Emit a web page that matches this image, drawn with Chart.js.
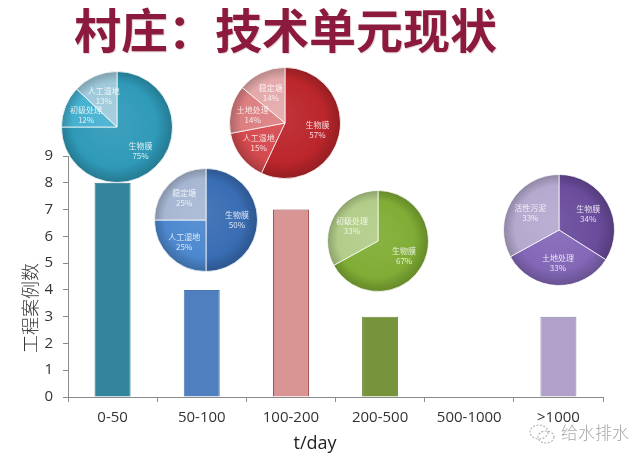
<!DOCTYPE html>
<html>
<head>
<meta charset="utf-8">
<script src="https://cdn.jsdelivr.net/npm/chart.js@4/dist/chart.umd.min.js"></script>
<style>
  html, body { margin: 0; padding: 0; background: #fff; }
  #wrap { position: relative; width: 636px; height: 463px; overflow: hidden; }
  #bars { position: absolute; left: 0; top: 0; }
  .pie { position: absolute; }
  #title {
    position: absolute; left: 74px; top: 5px; width: 420px; text-align: center;
    font: 700 47px/46px "Noto Sans CJK SC", sans-serif; color: #8c1a3c;
    text-shadow: 1px 1px 1px rgba(90, 0, 20, 0.18);
    white-space: nowrap;
  }
  #ytitle {
    position: absolute; left: -21px; top: 297px; width: 100px; height: 22px;
    text-align: center; font: 300 18px/22px "Noto Sans CJK SC", sans-serif; color: #333;
    transform: rotate(-90deg);
  }
  #xtitle {
    position: absolute; left: 265px; top: 431px; width: 100px; text-align: center;
    font: 18px/22px "Open Sans", sans-serif; color: #222;
  }
  #mark {
    position: absolute; left: 528px; top: 420px; height: 24px;
    font: 300 17px/24px "Noto Sans CJK SC", sans-serif; color: #a8a8a8;
    white-space: nowrap;
  }
  #mark svg { vertical-align: -6px; margin-right: 5px; }
</style>
</head>
<body>
<div id="wrap">
  <canvas id="bars" width="636" height="463"></canvas>
  <canvas id="pie0" class="pie"></canvas>
  <canvas id="pie1" class="pie"></canvas>
  <canvas id="pie2" class="pie"></canvas>
  <canvas id="pie3" class="pie"></canvas>
  <canvas id="pie4" class="pie"></canvas>
  <div id="title">村庄：技术单元现状</div>
  <div id="ytitle">工程案例数</div>
  <div id="xtitle">t/day</div>
  <div id="mark"><svg width="28" height="22" viewBox="0 0 28 22"><ellipse cx="11" cy="9" rx="9" ry="7" fill="none" stroke="#b5b5b5" stroke-width="1.2" stroke-dasharray="2 1.5"/><ellipse cx="18" cy="14" rx="8" ry="6" fill="none" stroke="#b5b5b5" stroke-width="1.2" stroke-dasharray="2 1.5"/></svg>给水排水</div>
</div>
<script>
// Flow-rate classes (t/day) and number of project cases per class
const categories = ['0-50', '50-100', '100-200', '200-500', '500-1000', '>1000'];
const caseCounts = [8, 4, 7, 3, 0, 3];
const yMax = 9;

// Technology share (%) inside each flow-rate class
const pie0Labels = ['生物膜', '初级处理', '人工湿地'];
const pie0Values = [75, 12, 13];
const pie1Labels = ['生物膜', '人工湿地', '稳定塘'];
const pie1Values = [50, 25, 25];
const pie2Labels = ['生物膜', '人工湿地', '土地处理', '稳定塘'];
const pie2Values = [57, 15, 14, 14];
const pie3Labels = ['生物膜', '初级处理'];
const pie3Values = [67, 33];
const pie4Labels = ['生物膜', '土地处理', '活性污泥'];
const pie4Values = [34, 33, 33];

const barFill   = ['#31849b', '#4f7fbf', '#d99594', '#77933c', '#ffffff', '#b1a0c7'];
const barStroke = ['#2b7389', '#4a78b4', '#953735', '#6e8a37', '#ffffff', '#8e86a0'];

const axisGrey = '#8a8a8a';
const tickFont = { family: 'Open Sans', size: 15 };

new Chart(document.getElementById('bars'), {
  type: 'bar',
  data: {
    labels: categories,
    datasets: [{
      data: caseCounts,
      backgroundColor: barFill,
      borderColor: barStroke,
      borderWidth: 1,
      categoryPercentage: 1,
      barPercentage: 0.404
    }]
  },
  options: {
    responsive: false,
    animation: false,
    layout: { padding: { left: 0, top: 156, right: 33, bottom: 0 } },
    plugins: { legend: { display: false }, tooltip: { enabled: false } },
    scales: {
      x: {
        grid: { drawOnChartArea: false, drawTicks: true, tickLength: 5, color: axisGrey, offset: true },
        border: { color: axisGrey },
        ticks: { font: tickFont, color: '#333', padding: 7, maxRotation: 0 },
        afterFit(s) { s.height = 66; }
      },
      y: {
        min: 0, max: yMax,
        grid: { drawOnChartArea: false, drawTicks: true, tickLength: 5, color: axisGrey },
        border: { color: axisGrey },
        ticks: { stepSize: 1, font: tickFont, color: '#333', padding: 10 },
        afterFit(s) { s.width = 68; }
      }
    }
  }
});

// darken / lighten a hex colour
function shade(hex, k) {
  const n = parseInt(hex.slice(1), 16);
  let r = n >> 16, g = (n >> 8) & 255, b = n & 255;
  const f = c => Math.max(0, Math.min(255, Math.round(k < 0 ? c * (1 + k) : c + (255 - c) * k)));
  return 'rgb(' + f(r) + ',' + f(g) + ',' + f(b) + ')';
}

// slice labels: name over percentage, placed inside each slice
const sliceLabels = {
  id: 'sliceLabels',
  afterDatasetsDraw(chart) {
    const ctx = chart.ctx;
    const meta = chart.getDatasetMeta(0);
    const names = chart.data.labels;
    const vals = chart.data.datasets[0].data;
    ctx.save();
    ctx.font = '8px "Noto Sans CJK SC", sans-serif';
    ctx.fillStyle = 'rgba(255,255,255,0.82)';
    ctx.textAlign = 'center';
    ctx.textBaseline = 'middle';
    meta.data.forEach((arc, i) => {
      const p = arc.getProps(['x', 'y', 'startAngle', 'endAngle', 'outerRadius'], true);
      const mid = (p.startAngle + p.endAngle) / 2;
      const rr = p.outerRadius * 0.6;
      const px = p.x + Math.cos(mid) * rr;
      const py = p.y + Math.sin(mid) * rr;
      ctx.fillText(names[i], px, py - 5);
      ctx.fillText(vals[i] + '%', px, py + 5);
    });
    ctx.restore();
  }
};

function drawPie(id, labels, values, colors, cx, cy, r) {
  const el = document.getElementById(id);
  const size = 2 * r + 4;
  el.width = size; el.height = size;
  el.style.left = (cx - size / 2) + 'px';
  el.style.top = (cy - size / 2) + 'px';
  new Chart(el, {
    type: 'pie',
    data: {
      labels: labels,
      datasets: [{
        data: values,
        backgroundColor(c) {
          const base = colors[c.dataIndex];
          const a = c.chart.chartArea;
          if (!a) return base;
          const x = (a.left + a.right) / 2, y = (a.top + a.bottom) / 2;
          const rad = Math.min(a.width, a.height) / 2;
          const g = c.chart.ctx.createRadialGradient(x - rad * 0.15, y - rad * 0.15, 0, x, y, rad);
          g.addColorStop(0, shade(base, 0.08));
          g.addColorStop(0.75, base);
          g.addColorStop(1, shade(base, -0.22));
          return g;
        },
        borderColor: 'rgba(255,255,255,0.75)',
        borderWidth: 1
      }]
    },
    options: {
      responsive: false,
      animation: false,
      layout: { padding: 0 },
      plugins: { legend: { display: false }, tooltip: { enabled: false } }
    },
    plugins: [sliceLabels]
  });
}

drawPie('pie0', pie0Labels, pie0Values, ['#2f9ab8', '#45b1d0', '#9fcadb'], 117, 127, 54);
drawPie('pie1', pie1Labels, pie1Values, ['#396db3', '#4d88cf', '#a7b7d3'], 206, 220, 50);
drawPie('pie2', pie2Labels, pie2Values, ['#bb262b', '#d54a4f', '#dc7f81', '#e4a9aa'], 285, 123, 54);
drawPie('pie3', pie3Labels, pie3Values, ['#80ad35', '#b2cd89'], 378, 241, 49);
drawPie('pie4', pie4Labels, pie4Values, ['#6a4c9c', '#8468b8', '#b5a9cf'], 559, 230, 54);
</script>
</body>
</html>
